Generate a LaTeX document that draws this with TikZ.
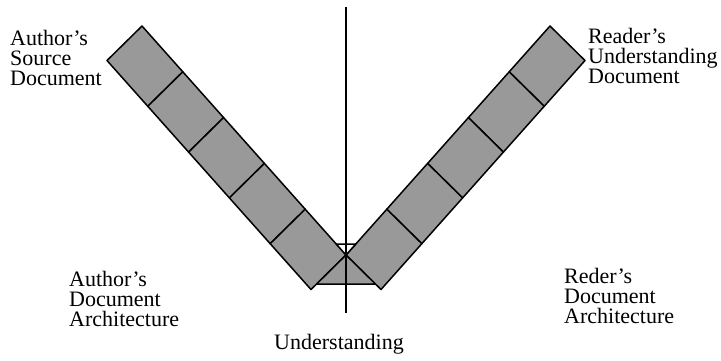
\documentclass[tikz,border=0pt]{standalone}
\usepackage{fontspec}
\setmainfont{Liberation Serif}
\usetikzlibrary{calc}

\begin{document}
\begin{tikzpicture}[
  x=1pt,
  y=-1pt,
  cell/.style={draw,fill=black!40,line width=1.5pt,line join=round},
  gap/.style={draw,fill=white,line width=1.5pt,line join=round},
  axis/.style={line width=1.5pt},
  caption/.style={align=left,inner sep=0pt,anchor=north west,
    font=\fontsize{22}{20}\selectfont}
]
\useasboundingbox (0,0) rectangle (721,360);

\coordinate (apex) at (346,255);
\coordinate (ltop) at (107,60.5);
\coordinate (rtop) at (585,60.5);

% author's band (left) and reader's band (right)
\foreach \i in {0,...,4} {
  \draw[cell] ($(ltop)+\i*(40.8,45.8)$) -- ++(40.8,45.8) -- ++(35,-34.5)
    -- ++(-40.8,-45.8) -- cycle;
  \draw[cell] ($(rtop)+\i*(-40.8,45.8)$) -- ++(-40.8,45.8) -- ++(-35,-34.5)
    -- ++(40.8,-45.8) -- cycle;
}

% meeting point
\draw[cell] (apex) -- (316.6,284) -- (375.4,284) -- cycle;
\draw[gap] (apex) -- (336.2,244) -- (355.8,244) -- cycle;

\coordinate (axtop) at (346,7);
\coordinate (axbot) at (346,313);
\draw[axis] (axtop) -- (axbot);

\node[caption] (asource) at (10,30) {Author's\\Source\\Document};
\node[caption] (runder) at (588,28) {Reader's\\Understanding\\Document};
\node[caption] (aarch) at (69,271) {Author's\\Document\\Architecture};
\node[caption] (rarch) at (564,268) {Reder's\\Document\\Architecture};
\node[font=\fontsize{22}{20}\selectfont,anchor=base,inner sep=0pt]
  (under) at (339,349) {Understanding};

\end{tikzpicture}
\end{document}
